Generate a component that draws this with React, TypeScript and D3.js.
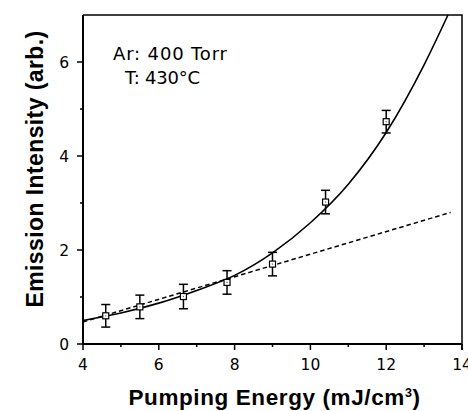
import React from "react";
import * as d3 from "d3";

const pointX = [4.6, 5.5, 6.65, 7.8, 9.0, 10.4, 12.0];
const pointY = [0.6, 0.79, 1.01, 1.31, 1.7, 3.02, 4.73];
const pointErr = [0.24, 0.25, 0.26, 0.25, 0.25, 0.25, 0.24];

const fitX = [4, 5, 6, 7, 8, 9, 10, 11, 12, 13, 13.63];
const fitY = [0.5, 0.66, 0.87, 1.14, 1.46, 1.94, 2.58, 3.4, 4.5, 5.94, 7.0];

const linX = [4, 13.7];
const linY = [0.47, 2.8];

const xMajor = [4, 6, 8, 10, 12, 14];
const xMinor = [5, 7, 9, 11, 13];
const yMajor = [0, 2, 4, 6];
const yMinor = [1, 3, 5];

export default function App() {
  const W = 468, H = 411;
  const L = 83, R = 462, T = 15, B = 344;
  const x = d3.scaleLinear().domain([4, 14]).range([L, R]);
  const y = d3.scaleLinear().domain([0, 7]).range([B, T]);

  const line = d3.line<[number, number]>().x(d => x(d[0])).y(d => y(d[1])).curve(d3.curveMonotoneX);
  const fitPath = line(fitX.map((v, i) => [v, fitY[i]]) as [number, number][]) || "";
  const linPath = d3.line<[number, number]>().x(d => x(d[0])).y(d => y(d[1]))(linX.map((v, i) => [v, linY[i]]) as [number, number][]) || "";

  const tickFont = "'DejaVu Sans', Verdana, sans-serif";
  const labelFont = "'Liberation Sans', Arial, Helvetica, sans-serif";

  return (
    <svg width={W} height={H} style={{ position: "absolute", left: 0, top: 0, background: "#fff" }}>
      <rect x={0} y={0} width={W} height={H} fill="#fff" />
      {/* frame */}
      <path d={`M${L},${T}H${R}V${B + 6}`} fill="none" stroke="#000" strokeWidth={1.5} />
      <line x1={L} y1={T} x2={L} y2={B} stroke="#000" strokeWidth={2} />
      <line x1={L} y1={B} x2={R} y2={B} stroke="#000" strokeWidth={2} />
      {/* x ticks */}
      {xMajor.map(v => (
        <line key={"xM" + v} x1={x(v)} x2={x(v)} y1={B} y2={B + 6} stroke="#000" strokeWidth={1.5} />
      ))}
      {xMinor.map(v => (
        <line key={"xm" + v} x1={x(v)} x2={x(v)} y1={B} y2={B + 3} stroke="#000" strokeWidth={1.5} />
      ))}
      {yMajor.map(v => (
        <line key={"yM" + v} x1={L - 6} x2={L} y1={y(v)} y2={y(v)} stroke="#000" strokeWidth={1.5} />
      ))}
      {yMinor.map(v => (
        <line key={"ym" + v} x1={L - 3} x2={L} y1={y(v)} y2={y(v)} stroke="#000" strokeWidth={1.5} />
      ))}
      {xMajor.map(v => (
        <text key={"xl" + v} x={x(v)} y={B + 26} textAnchor="middle" fontFamily={tickFont} fontSize={15.5} fill="#000">{v}</text>
      ))}
      {yMajor.map(v => (
        <text key={"yl" + v} x={L - 14} y={y(v) + 5.5} textAnchor="end" fontFamily={tickFont} fontSize={15.5} fill="#000">{v}</text>
      ))}
      {/* curves */}
      <path d={linPath} fill="none" stroke="#000" strokeWidth={1.5} strokeDasharray="4.5,3" />
      <path d={fitPath} fill="none" stroke="#000" strokeWidth={1.6} />
      {/* error bars and points */}
      {pointX.map((v, i) => {
        const cx = x(v), cy = y(pointY[i]);
        const y1 = y(pointY[i] + pointErr[i]), y2 = y(pointY[i] - pointErr[i]);
        return (
          <g key={"p" + i}>
            <line x1={cx} x2={cx} y1={y1} y2={y2} stroke="#000" strokeWidth={1.5} />
            <line x1={cx - 4.5} x2={cx + 4.5} y1={y1} y2={y1} stroke="#000" strokeWidth={1.5} />
            <line x1={cx - 4.5} x2={cx + 4.5} y1={y2} y2={y2} stroke="#000" strokeWidth={1.5} />
            <rect x={cx - 3} y={cy - 3} width={6} height={6} fill="#fff" stroke="#000" strokeWidth={1.2} />
            <rect x={cx - 0.6} y={cy - 0.6} width={1.2} height={1.2} fill="#666" />
          </g>
        );
      })}
      {/* annotation */}
      <text x={113} y={60} fontFamily={tickFont} fontSize={18} fill="#000" textLength={114} lengthAdjust="spacing">Ar: 400 Torr</text>
      <text x={125} y={84} fontFamily={tickFont} fontSize={18} fill="#000" textLength={75} lengthAdjust="spacing">T: 430°C</text>
      {/* axis labels */}
      <text x={(L + R) / 2 + 2} y={405} textAnchor="middle" fontFamily={labelFont} fontWeight="bold" fontSize={22.5} letterSpacing={0.6} fill="#000">
        Pumping Energy (mJ/cm<tspan dy={-8} fontSize={12.5}>3</tspan><tspan dy={8}>)</tspan>
      </text>
      <text transform={`translate(43,${169}) rotate(-90)`} textAnchor="middle" fontFamily={labelFont} fontWeight="bold" fontSize={23} letterSpacing={0.4} fill="#000">
        Emission Intensity (arb.)
      </text>
    </svg>
  );
}
